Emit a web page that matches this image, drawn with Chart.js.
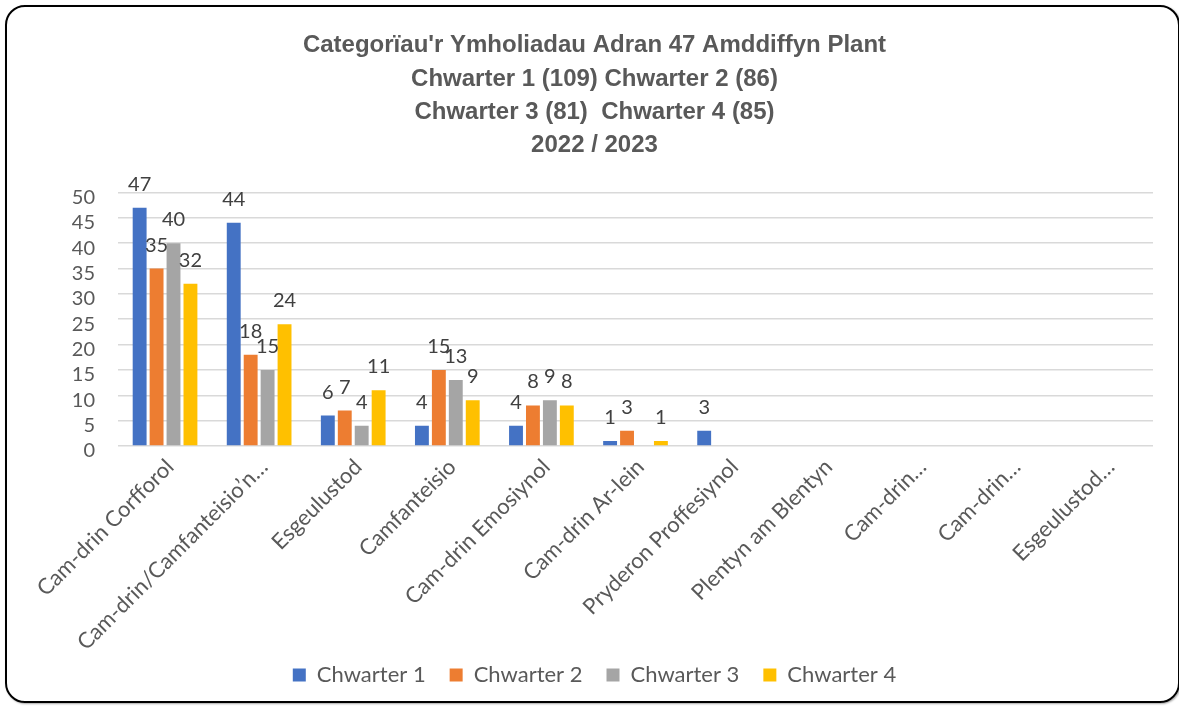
<!DOCTYPE html>
<html><head><meta charset="utf-8">
<script src="https://cdn.jsdelivr.net/npm/chart.js@4.4.0/dist/chart.umd.min.js"></script>
<style>
html,body{margin:0;padding:0;background:#fff;overflow:hidden;}
#wrap{position:relative;width:1179px;height:706px;overflow:hidden;background:#fff;}
#c{position:absolute;left:0;top:0;}
#frame{position:absolute;left:5px;top:5px;width:1171px;height:694px;border:2px solid #000;border-radius:20px;pointer-events:none;box-shadow:1px 1px 2px rgba(0,0,0,0.35);}
</style></head><body>
<div id="wrap"><canvas id="c" width="1179" height="696" style="width:1179px;height:696px"></canvas><div id="frame"></div></div>
<script>
const categories = [
  "Cam-drin Corfforol",
  "Cam-drin/Camfanteisio’n…",
  "Esgeulustod",
  "Camfanteisio",
  "Cam-drin Emosiynol",
  "Cam-drin Ar-lein",
  "Pryderon Proffesiynol",
  "Plentyn am Blentyn",
  "Cam-drin…",
  "Cam-drin…",
  "Esgeulustod…"
];
const seriesNames = ["Chwarter 1", "Chwarter 2", "Chwarter 3", "Chwarter 4"];
const seriesColors = ["#4472C4", "#ED7D31", "#A5A5A5", "#FFC000"];
const q1 = [47, 44, 6, 4, 4, 1, 3, null, null, null, null];
const q2 = [35, 18, 7, 15, 8, 3, null, null, null, null, null];
const q3 = [40, 15, 4, 13, 9, null, null, null, null, null, null];
const q4 = [32, 24, 11, 9, 8, 1, null, null, null, null, null];
const titleLines = [
  "Categorïau'r Ymholiadau Adran 47 Amddiffyn Plant",
  "Chwarter 1 (109) Chwarter 2 (86)",
  "Chwarter 3 (81)  Chwarter 4 (85)",
  "2022 / 2023"
];
const yMin = 0, yMax = 50, yStep = 5;

const seriesData = [q1, q2, q3, q4];

const valueLabels = {
  id: 'valueLabels',
  afterDatasetsDraw(chart) {
    const ctx = chart.ctx;
    ctx.save();
    ctx.font = '20px Lato';
    ctx.fillStyle = '#404040';
    ctx.textAlign = 'center';
    ctx.textBaseline = 'alphabetic';
    chart.data.datasets.forEach((ds, i) => {
      const meta = chart.getDatasetMeta(i);
      meta.data.forEach((bar, j) => {
        const v = ds.data[j];
        if (v === null || v === undefined) return;
        ctx.fillText(String(v), bar.x, bar.y - 17);
      });
    });
    ctx.restore();
  }
};

new Chart(document.getElementById('c'), {
  type: 'bar',
  data: {
    labels: categories,
    datasets: seriesNames.map((n, i) => ({
      label: n,
      data: seriesData[i],
      backgroundColor: seriesColors[i],
      borderWidth: 0,
      barPercentage: 0.82,
      categoryPercentage: 0.72
    }))
  },
  options: {
    responsive: false,
    animation: false,
    devicePixelRatio: 1,
    layout: { padding: { left: 10, right: 0, top: 0, bottom: 0 } },
    plugins: {
      title: {
        display: true,
        text: titleLines,
        color: '#595959',
        font: { family: "'Liberation Sans Narrow', 'Liberation Sans', Arial", size: 24, weight: 'bold', lineHeight: 1.39 },
        padding: { top: 29, bottom: 30 }
      },
      legend: {
        position: 'bottom',
        labels: { boxWidth: 13, boxHeight: 13, padding: 24, color: '#595959', font: { family: 'Lato', size: 22 } }
      },
      tooltip: { enabled: false }
    },
    scales: {
      x: {
        grid: { display: false, drawTicks: false },
        border: { display: false },
        ticks: { autoSkip: false, maxRotation: 45, minRotation: 45, color: '#595959', font: { family: 'Lato', size: 22 }, padding: 8, labelOffset: 5 },
        afterFit(s) { s.height = 194; },
        afterUpdate(s) { s._computeLabelArea = () => undefined; }
      },
      y: {
        min: yMin, max: yMax,
        ticks: { stepSize: yStep, autoSkip: false, color: '#595959', font: { family: 'Lato', size: 20 }, padding: 23, labelOffset: 5 },
        grid: { color: '#d9d9d9', lineWidth: 1.5, drawTicks: false },
        border: { display: false },
        afterFit(s) { s.width = 108; }
      },
      yRight: {
        position: 'right',
        display: true,
        ticks: { display: false },
        grid: { display: false, drawTicks: false },
        border: { display: false },
        afterFit(s) { s.width = 26; }
      }
    }
  },
  plugins: [valueLabels]
});
</script>
</body></html>
